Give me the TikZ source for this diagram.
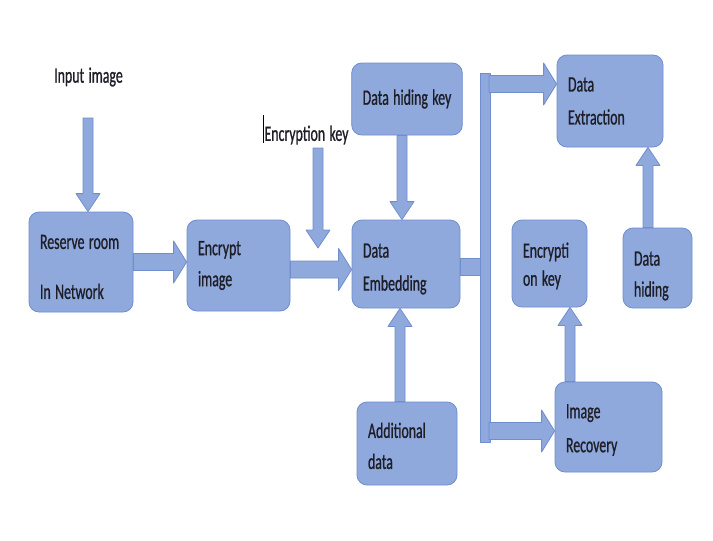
\documentclass[tikz,border=0pt]{standalone}
\usepackage{fontspec}
\setmainfont[FakeStretch=0.63,FakeBold=0.8,WordSpace=1.4]{Carlito}
\usetikzlibrary{calc}
\definecolor{boxfill}{RGB}{143,169,220}
\definecolor{boxline}{RGB}{112,141,206}
\definecolor{txt}{RGB}{30,30,40}
\newcommand\hsw{8.5pt}\newcommand\hhw{21pt}\newcommand\hhl{13pt}
\newcommand\vsw{5pt}\newcommand\vhw{12pt}\newcommand\vhl{18pt}
\newcommand\hArrow[2]{\path[blk] let \p1=(#1), \p2=(#2) in
 (\x1,{\y1+\hsw}) -- ({\x2-\hhl},{\y1+\hsw}) -- ({\x2-\hhl},{\y1+\hhw}) -- (\x2,\y1)
 -- ({\x2-\hhl},{\y1-\hhw}) -- ({\x2-\hhl},{\y1-\hsw}) -- (\x1,{\y1-\hsw}) -- cycle;}
\newcommand\vArrow[3]{\path[blk] let \p1=(#1), \p2=(#2) in
 ({\x1-\vsw},\y1) -- ({\x1-\vsw},{\y2+(#3)*\vhl}) -- ({\x1-\vhw},{\y2+(#3)*\vhl}) -- (\x1,\y2)
 -- ({\x1+\vhw},{\y2+(#3)*\vhl}) -- ({\x1+\vsw},{\y2+(#3)*\vhl}) -- ({\x1+\vsw},\y1) -- cycle;}
\newcommand\up[1]{\rule{0pt}{#1}}
\begin{document}
\begin{tikzpicture}[x=1pt,y=-1pt,
  box/.style={draw=boxline, fill=boxfill, rounded corners=10pt, line width=0.8pt,
    align=left, inner xsep=11pt, inner ysep=4pt, text=txt,
    font=\fontsize{22}{31}\selectfont, execute at begin node={\spaceskip=0pt\xspaceskip=0pt\relax}},
  lbl/.style={text=txt, inner sep=2pt, font=\fontsize{22}{31}\selectfont},
  blk/.style={fill=boxfill, draw=boxline, line width=0.8pt, line join=round}]
\useasboundingbox[fill=white] (0,0) rectangle (713,541);

% boxes
\node[box, minimum width=104pt, minimum height=100pt, text width=82pt] (reserve) at (81,262) {\up{24pt}\mbox{Reserve room}\\[19pt]\mbox{In Network}};
\node[box, minimum width=103pt, minimum height=91pt, text width=81pt] (encrypt) at (238.5,265.5) {Encrypt\\image};
\node[box, minimum width=108pt, minimum height=88pt, text width=86pt] (embed) at (406,264) {\up{24pt}Data\\[2pt]Embedding};
\node[box, minimum width=110pt, minimum height=72pt] (hidingkey) at (407,99) {\mbox{Data hiding key}};
\node[box, minimum width=106pt, minimum height=92pt, text width=84pt] (extraction) at (610,101) {Data\\[2pt]Extraction};
\node[box, minimum width=75pt, minimum height=87pt, text width=53pt] (enckeybox) at (549.5,263.5) {\up{20pt}Encrypti\\[-3pt]\mbox{on key}};
\node[box, minimum width=69pt, minimum height=80pt, text width=47pt] (datahiding) at (657.5,268) {\up{30pt}Data\\hiding};
\node[box, minimum width=100pt, minimum height=83pt, text width=78pt] (additional) at (407,443.5) {\up{20pt}Additional\\data};
\node[box, minimum width=107pt, minimum height=90pt, text width=85pt] (recovery) at (608.5,427) {\up{20pt}Image\\[3pt]Recovery};

% free labels
\node[lbl] (inputlbl) at (88.5,77) {Input image};
\node[lbl] (enclbl) at (306.5,135) {Encryption key};
\draw[line width=0.6pt, black] ([xshift=1pt]enclbl.west |- 0,115) -- ([xshift=1pt]enclbl.west |- 0,143);

% coordinates
\coordinate (in0) at (88,118);
\coordinate (ek0) at (318,148);
\coordinate (ek1) at (318,248);
\coordinate (bartop) at (480,73);
\coordinate (barbot) at (490,442);
\coordinate (jt) at (489,84);
\coordinate (jb) at (489,431);

% connectors
\vArrow{in0}{reserve.north}{1}
\hArrow{reserve.east}{encrypt.west}
\hArrow{[yshift=-4pt]encrypt.east}{embed.west}
\vArrow{ek0}{ek1}{1}
\vArrow{[xshift=-5pt]hidingkey.south}{embed.north}{1}
\vArrow{[xshift=-7pt]additional.north}{embed.south}{-1}
\path[blk] let \p1=([yshift=-2.5pt]embed.east), \p2=(bartop) in
  (\x1,{\y1+\hsw}) rectangle ({\x2+2pt},{\y1-\hsw});
\path[blk] (bartop) rectangle (barbot);
\hArrow{jt}{extraction.west}
\hArrow{jb}{recovery.west}
\vArrow{[xshift=-9.5pt]datahiding.north}{extraction.south}{-1}
\vArrow{[xshift=-38.5pt]recovery.north}{enckeybox.south}{-1}
\end{tikzpicture}
\end{document}
